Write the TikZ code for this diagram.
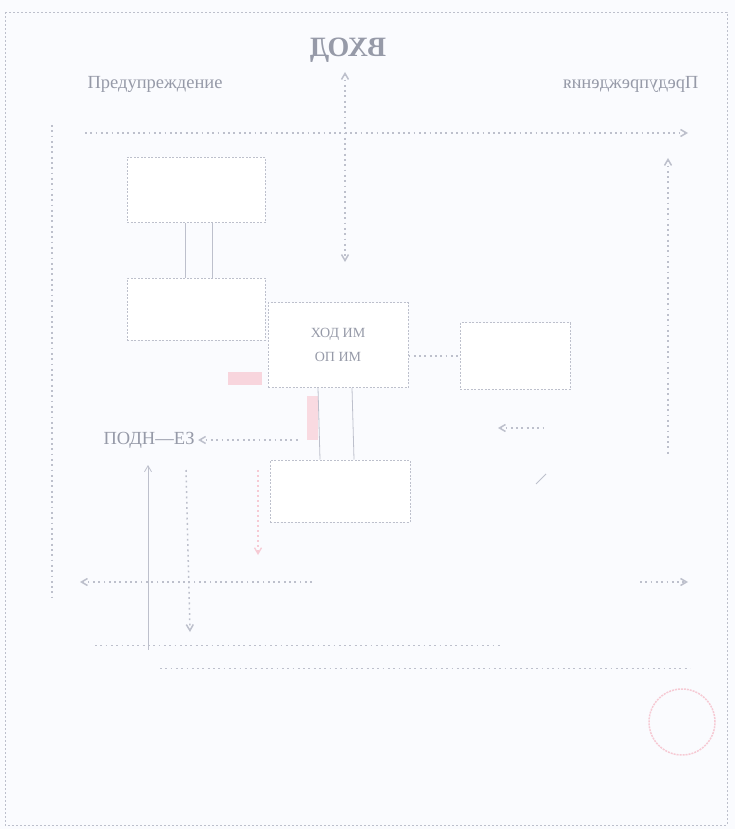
\documentclass[tikz,border=0pt]{standalone}
\usepackage{fontspec}
\setmainfont{Liberation Serif}
\usepackage{graphicx}
\usetikzlibrary{arrows.meta}
\definecolor{paper}{HTML}{FAFBFE}
\definecolor{ink}{HTML}{BDC0CC}
\definecolor{inkd}{HTML}{969AA8}
\definecolor{pinkish}{HTML}{F6CAD4}
\begin{document}
\begin{tikzpicture}[x=1pt,y=-1pt,
  box/.style={draw=ink, dash pattern=on 2pt off 1.5pt, line width=1pt, fill=white, inner sep=0pt},
  dotl/.style={draw=ink, line width=1.5pt, dash pattern=on 1.8pt off 3.5pt},
  thinl/.style={draw=ink, line width=0.8pt},
  tip/.style={-{Straight Barb[length=6pt,width=7pt]}},
  lbl/.style={text=inkd, font=\fontsize{18.5}{22}\selectfont},
  boxtxt/.style={text=inkd, font=\fontsize{14}{24}\selectfont, align=center}
]
\fill[paper] (0,0) rectangle (735,829);
\useasboundingbox (0,0) rectangle (735,829);
\draw[thinl, dash pattern=on 2pt off 2pt] (5,12) rectangle (727,825);

% titles
\node[text=inkd, font=\bfseries\fontsize{28}{30}\selectfont] (title) at (348,50) {\reflectbox{ВХОД}};
\node[lbl, anchor=west] (warnl) at (84,84) {Предупреждение};
\node[lbl, anchor=east] (warnr) at (702,84) {\reflectbox{Предупреждения}};

% boxes
\node[box, minimum width=138pt, minimum height=65pt] (b1) at (196,190) {};
\node[box, minimum width=138pt, minimum height=62pt] (b2) at (196,309) {};
\node[box, minimum width=140pt, minimum height=85pt, boxtxt] (b3) at (338,345) {ХОД ИМ\\ОП ИМ};
\node[box, minimum width=110pt, minimum height=67pt] (b4) at (515,356) {};
\node[box, minimum width=140pt, minimum height=62pt] (b5) at (340,491) {};

% connectors between boxes
\draw[thinl] ([xshift=-11pt]b1.south) -- ([xshift=-11pt]b2.north);
\draw[thinl] ([xshift=16pt]b1.south) -- ([xshift=16pt]b2.north);
\fill[pinkish!70] (307,396) rectangle (318,440);
\draw[thinl] ([xshift=-20pt]b3.south) -- ([xshift=-20pt]b5.north);
\draw[thinl] ([xshift=14pt]b3.south) -- ([xshift=14pt]b5.north);
\draw[dotl] (b3.east |- b4.west) -- (b4.west);
\fill[pinkish!80] (228,372) rectangle (262,385);

% main dotted lines
\coordinate (hl) at (85,133);
\coordinate (hr) at (688,133);
\draw[dotl, tip] (hl) -- (hr);
\coordinate (vtop) at (345,72);
\coordinate (vbot) at (345,262);
\draw[dotl, {Straight Barb[length=6pt,width=7pt]}-{Straight Barb[length=6pt,width=7pt]}] (vtop) -- (vbot);
\coordinate (rtop) at (668,158);
\coordinate (rbot) at (668,455);
\draw[dotl, {Straight Barb[length=6pt,width=7pt]}-] (rtop) -- (rbot);
\coordinate (ltop) at (52,125);
\coordinate (lbot) at (52,598);
\draw[dotl] (ltop) -- (lbot);
\coordinate (ra) at (498,428);
\coordinate (rb) at (545,428);
\draw[dotl, {Straight Barb[length=6pt,width=7pt]}-] (ra) -- (rb);

% lower-left label and lines
\node[lbl, anchor=west] (lower) at (100,440) {ПОДН—ЕЗ};
\coordinate (la) at (300,440);
\draw[dotl, {Straight Barb[length=6pt,width=7pt]}-] (lower.east) -- (la);
\coordinate (ba) at (80,582);
\coordinate (bb) at (312,582);
\draw[dotl, tip] (bb) -- (ba);
\coordinate (bc) at (640,582);
\coordinate (bd) at (688,582);
\draw[dotl, tip] (bc) -- (bd);
\coordinate (va) at (148,465);
\coordinate (vb) at (148,650);
\draw[thinl, {Straight Barb[length=6pt,width=7pt]}-] (va) -- (vb);
\coordinate (vc) at (186,470);
\coordinate (vd) at (190,632);
\draw[dotl, tip] (vc) -- (vd);
\coordinate (pa) at (258,470);
\coordinate (pb) at (258,555);
\draw[draw=pinkish, line width=1.3pt, dash pattern=on 1.5pt off 3.5pt, tip] (pa) -- (pb);
\coordinate (ea) at (95,645);
\coordinate (eb) at (500,645);
\draw[dotl, line width=0.9pt] (ea) -- (eb);
\coordinate (ec) at (160,668);
\coordinate (ed) at (690,668);
\draw[dotl, line width=0.9pt] (ec) -- (ed);
\coordinate (ma) at (536,484);
\coordinate (mb) at (546,474);
\draw[thinl] (ma) -- (mb);

% stamp circle
\node[circle, draw=pinkish, line width=1.5pt, dash pattern=on 2pt off 1pt, minimum size=66pt] (stamp) at (682,722) {};
\end{tikzpicture}
\end{document}
